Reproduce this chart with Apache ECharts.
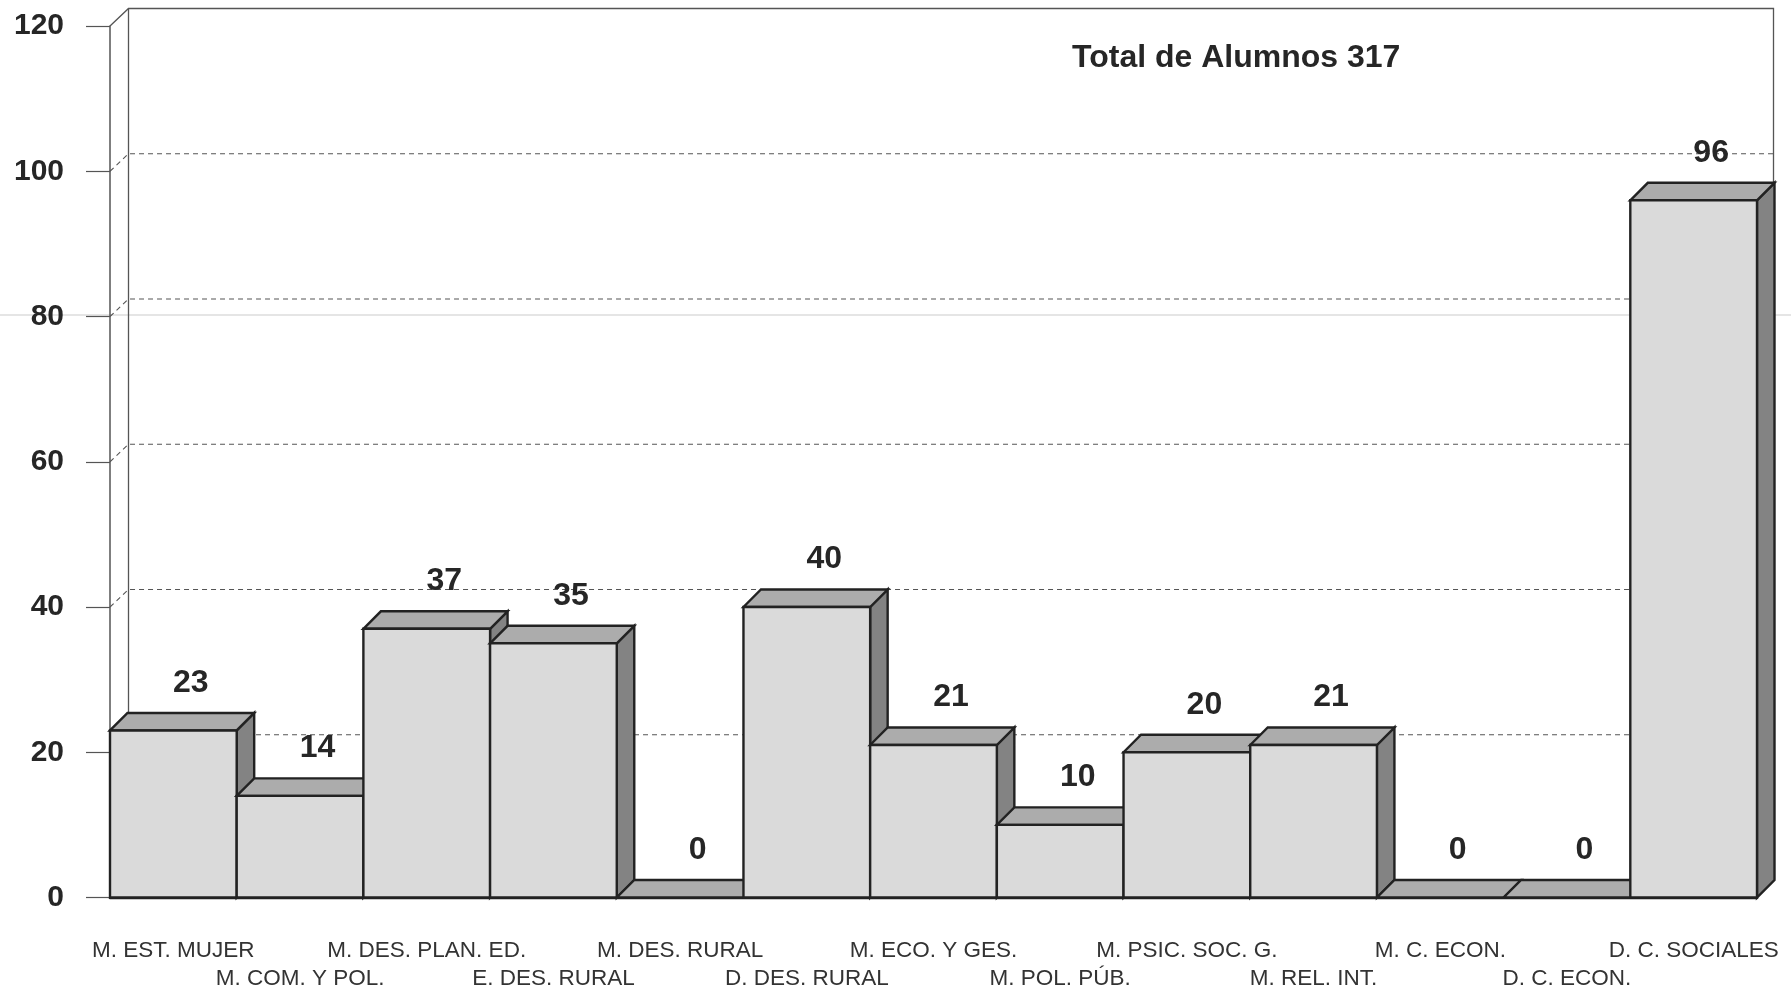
<!DOCTYPE html>
<html><head><meta charset="utf-8">
<style>html,body{margin:0;padding:0;background:#fff}#c{width:1791px;height:991px}</style>
<script src="https://cdn.jsdelivr.net/npm/echarts@6/dist/echarts.min.js"></script>
</head><body><div id="c"></div>
<script>
const categories = ['M. EST. MUJER','M. COM. Y POL.','M. DES. PLAN. ED.','E. DES. RURAL','M. DES. RURAL','D. DES. RURAL','M. ECO. Y GES.','M. POL. PÚB.','M. PSIC. SOC. G.','M. REL. INT.','M. C. ECON.','D. C. ECON.','D. C. SOCIALES'];
const alumnos = [23,14,37,35,0,40,21,10,20,21,0,0,96];
const gridValues = [20,40,60,80,100];
const titleText = 'Total de Alumnos 317';
const D = 17.5;
const font = 'Arial, "Liberation Sans", sans-serif';
const chart = echarts.init(document.getElementById('c'), null, {renderer:'canvas'});
function poly(points, fill, lw){
  return {type:'polygon', shape:{points}, style:{fill, stroke:'#222', lineWidth:lw, lineJoin:'miter'}};
}
chart.setOption({
  animation:false,
  backgroundColor:'#fff',
  title:{text:titleText,left:1067,top:37,textStyle:{fontFamily:font,fontSize:32,fontWeight:'bold',color:'#262626'}},
  graphic:[{type:'line',z:0,silent:true,shape:{x1:0,y1:315,x2:1791,y2:315},style:{stroke:'#dddddd',lineWidth:1.5}}],
  grid:{left:110,top:26,width:1647,height:871.5,outerBoundsMode:'none',containLabel:false},
  xAxis:{type:'category',data:categories,
    axisLine:{show:true,lineStyle:{color:'#222',width:2.4}},
    axisTick:{show:false},
    axisLabel:{interval:0,margin:39,fontFamily:font,fontSize:22.5,color:'#333',lineHeight:28.5,hideOverlap:false,
      formatter:(v,i)=> i%2 ? '\n'+v : v}},
  yAxis:{type:'value',min:0,max:120,interval:20,
    axisLine:{show:true,lineStyle:{color:'#555',width:1.5}},
    axisTick:{show:true,length:24,lineStyle:{color:'#555',width:1.2}},
    axisLabel:{margin:46,fontFamily:font,fontSize:30,fontWeight:'bold',color:'#262626'},
    splitLine:{show:false}},
  series:[
    {type:'custom',clip:false,z:1,silent:true,data:[120],
     renderItem:(p,api)=>{
       const c=api.coord([0,api.value(0)]);
       const left=p.coordSys.x, right=p.coordSys.x+p.coordSys.width;
       const s={stroke:'#555',lineWidth:1.3,fill:null};
       const yb=api.coord([0,0])[1]-D;
       return {type:'group',children:[
         {type:'polyline',shape:{points:[[left,c[1]],[left+D+1,c[1]-D],[right+D-1,c[1]-D],[right+D-1,yb]]},style:s},
         {type:'line',shape:{x1:left+D+1,y1:c[1]-D,x2:left+D+1,y2:yb},style:s}
       ]};
     },encode:{y:0}},
    {type:'custom',clip:false,z:2,silent:true,data:gridValues,
     renderItem:(p,api)=>{
       const c=api.coord([0,api.value(0)]);
       const left=p.coordSys.x, right=p.coordSys.x+p.coordSys.width;
       return {type:'polyline',shape:{points:[[left,c[1]],[left+D+1,c[1]-D],[right+D-1,c[1]-D]]},
         style:{stroke:'#555',lineWidth:1.1,lineDash:[5,4],fill:null}};
     },encode:{y:0}},
    {type:'custom',clip:false,z:3,silent:true,data:alumnos.map((v,i)=>[i,v]),
     renderItem:(p,api)=>{
       const i=api.value(0), v=api.value(1);
       const c=api.coord([i,v]), b=api.coord([i,0]), w=api.size([1,0])[0];
       const x0=c[0]-w/2, x1=c[0]+w/2, yt=c[1], yb=b[1];
       const children=[
         poly([[x1,yt],[x1+D,yt-D],[x1+D,yb-D],[x1,yb]],'#838383',2.4),
         poly([[x0,yt],[x0+D,yt-D],[x1+D,yt-D],[x1,yt]],'#acacac',2.4)
       ];
       if(v>0) children.push({type:'rect',shape:{x:x0,y:yt,width:w,height:yb-yt},style:{fill:'#dadada',stroke:'#222',lineWidth:2.4}});
       children.push({type:'text',z2:50,style:{text:String(v),x:c[0]+D,y:yt-D-30,align:'center',verticalAlign:'middle',
         font:'bold 32px '+font,fill:'#262626'}});
       return {type:'group',children};
     },encode:{x:0,y:1}}
  ]
});
</script></body></html>
